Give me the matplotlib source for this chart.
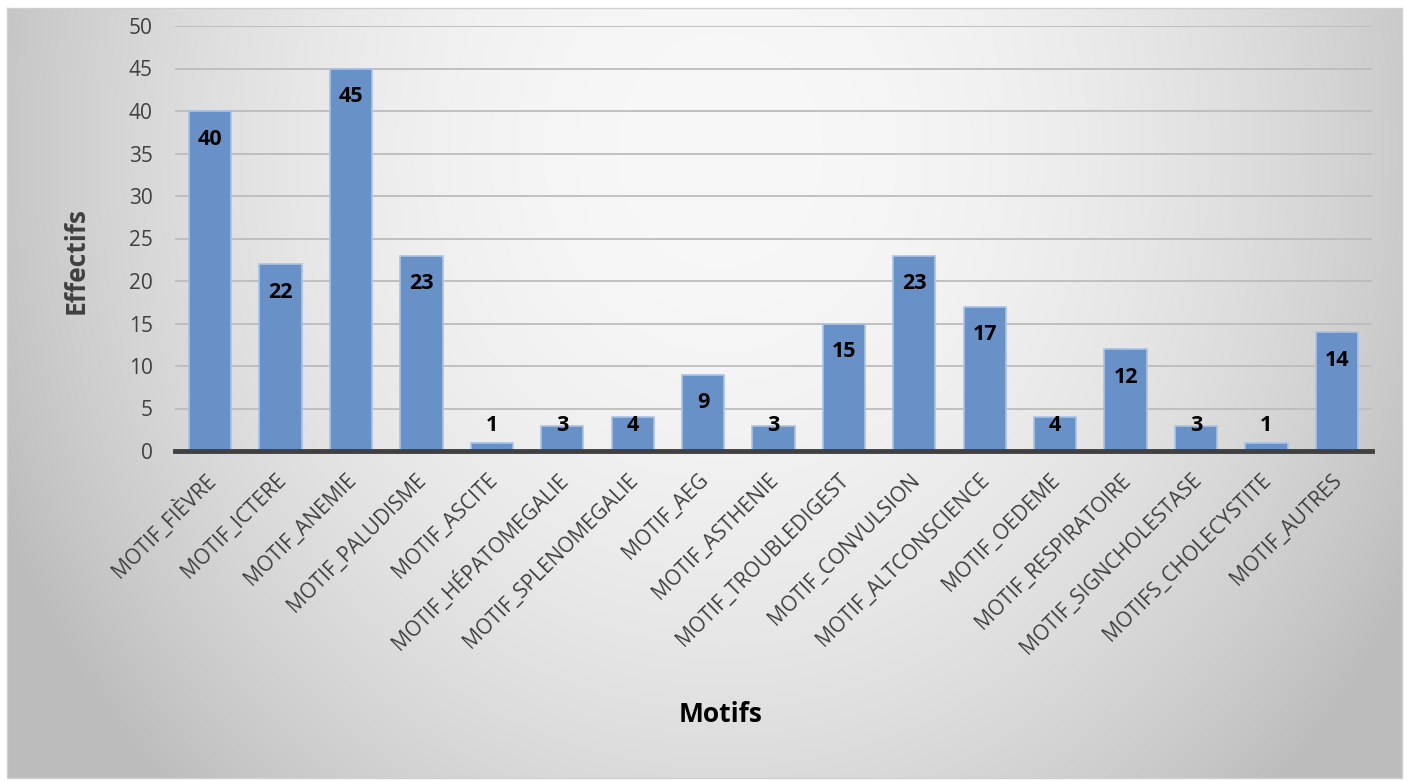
import numpy as np
import matplotlib
matplotlib.use("Agg")
import matplotlib.pyplot as plt
import matplotlib.transforms as mtransforms

plt.rcParams['font.family'] = ['Open Sans', 'DejaVu Sans']

motifs = ["MOTIF_FIÈVRE", "MOTIF_ICTERE", "MOTIF_ANEMIE", "MOTIF_PALUDISME",
          "MOTIF_ASCITE", "MOTIF_HÉPATOMEGALIE", "MOTIF_SPLENOMEGALIE", "MOTIF_AEG",
          "MOTIF_ASTHENIE", "MOTIF_TROUBLEDIGEST", "MOTIF_CONVULSION",
          "MOTIF_ALTCONSCIENCE", "MOTIF_OEDEME", "MOTIF_RESPIRATOIRE",
          "MOTIF_SIGNCHOLESTASE", "MOTIFS_CHOLECYSTITE", "MOTIF_AUTRES"]
effectifs = [40, 22, 45, 23, 1, 3, 4, 9, 3, 15, 23, 17, 4, 12, 3, 1, 14]
yticks = list(range(0, 55, 5))

W, H = 1408, 781
fig = plt.figure(figsize=(W / 100, H / 100), dpi=100)

# fond dégradé radial de la zone du graphique
bg = fig.add_axes([0, 0, 1, 1])
bg.set_xlim(0, W)
bg.set_ylim(H, 0)
bg.axis("off")
yy, xx = np.mgrid[0:H, 0:W]
r2 = ((xx - 720) / 700.0) ** 2 + ((yy - 150) / 800.0) ** 2
val = np.clip(248 - 47 * r2, 188, 250) / 255.0
img = np.dstack([val, val, val])
x0, y0, x1, y1 = 7, 8, 1402, 778
img[:y0, :] = 1
img[y1:, :] = 1
img[:, :x0] = 1
img[:, x1:] = 1
bg.imshow(img, extent=(0, W, H, 0), interpolation="bilinear")
bg.plot([x0, x1, x1, x0, x0], [y0, y0, y1, y1, y0], color="#d0d0d0", lw=1)

ax = fig.add_axes([175 / W, 1 - 451 / H, (1372 - 175) / W, (451 - 26) / H])
ax.patch.set_alpha(0)
x = np.arange(len(motifs))
ax.bar(x, effectifs, width=0.6, color="#6891c7", edgecolor="#a8c3e6", linewidth=1.2, zorder=3)

ax.set_xlim(-0.5, len(motifs) - 0.5)
ax.set_ylim(0, 50)
ax.set_yticks(yticks)
ax.yaxis.grid(True, color="#bcbcbc", linewidth=1.3, zorder=0)
ax.set_axisbelow(True)
for s in ["top", "right", "left"]:
    ax.spines[s].set_visible(False)
ax.spines["bottom"].set_color("#404040")
ax.spines["bottom"].set_linewidth(3.5)
ax.spines["bottom"].set_zorder(4)
ax.tick_params(axis="both", length=0)
ax.tick_params(axis="y", labelsize=15, labelcolor="#404040", pad=16)
ax.tick_params(axis="x", pad=0)

ax.set_xticks(x)
ax.set_xticklabels(motifs, rotation=45, ha="right", va="center",
                   rotation_mode="anchor", fontsize=15, color="#404040")
offset = mtransforms.ScaledTranslation(0.02, -0.26, fig.dpi_scale_trans)
for lbl in ax.get_xticklabels():
    lbl.set_transform(lbl.get_transform() + offset)

# étiquettes de valeur à l'intérieur du haut des barres
for xi, v in zip(x, effectifs):
    ax.text(xi, max(v - 3.3, 3.0), str(v), ha="center", va="center",
            fontsize=15.5, fontweight="bold", color="black", zorder=5)

fig.text(76 / W, 1 - 260 / H, "Effectifs", rotation=90, ha="center", va="center",
         fontsize=19, fontweight="bold", color="#404040")
fig.text(721 / W, 1 - 715 / H, "Motifs", ha="center", va="center",
         fontsize=19, fontweight="bold", color="black")

fig.savefig("out.png", dpi=100)
